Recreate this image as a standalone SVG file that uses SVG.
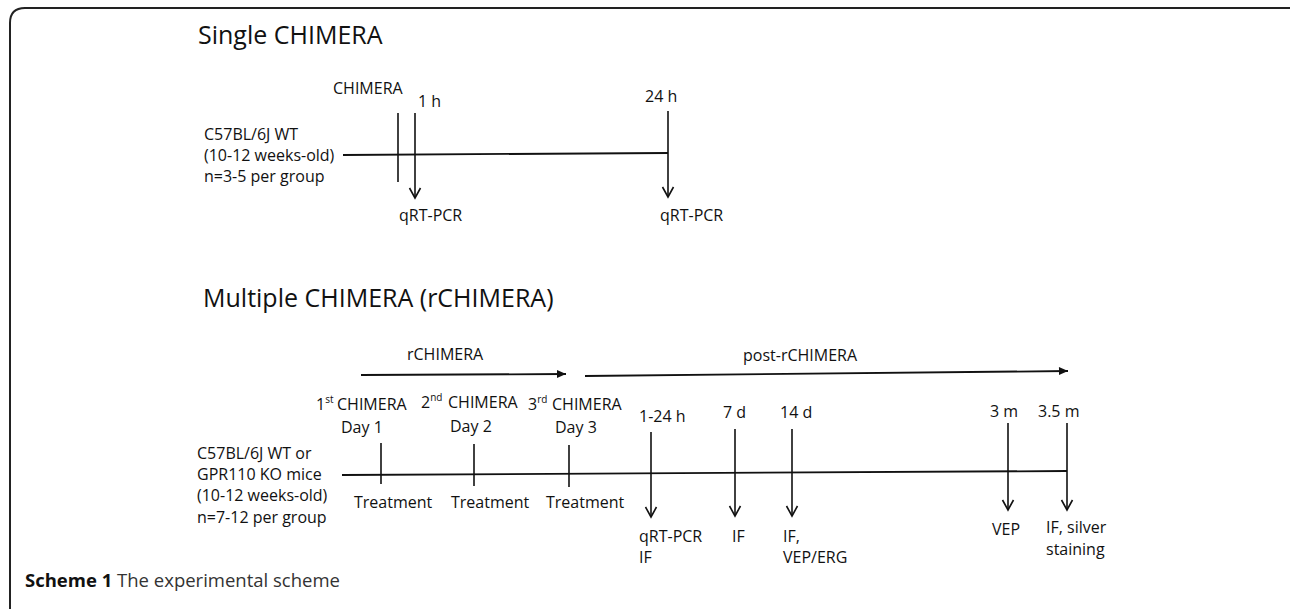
<svg xmlns="http://www.w3.org/2000/svg" width="1290" height="609" viewBox="0 0 1290 609">
<style>
  text { font-family: "Open Sans", "Noto Sans", "DejaVu Sans", sans-serif; fill: #111; }
  .lbl { font-size: 16px; }
  .title { font-size: 25px; }
  .sup { font-size: 10px; }
  .line { stroke: #111; stroke-width: 1.8; fill: none; }
  .tick { stroke: #111; stroke-width: 1.6; fill: none; }
  .frame { stroke: #222; stroke-width: 2; fill: none; }
  .cap-b { font-size: 18.5px; font-weight: bold; fill: #111; }
  .cap { font-size: 18.5px; fill: #333; }
</style>
<defs>
  <marker id="vhead" markerUnits="userSpaceOnUse" viewBox="-12 -7 14 14" markerWidth="14" markerHeight="14" refX="0" refY="0" orient="auto">
    <path d="M-10,-5.5 L0,0 L-10,5.5" fill="none" stroke="#111" stroke-width="1.6"/>
  </marker>
  <marker id="fhead" markerUnits="userSpaceOnUse" viewBox="-10 -5 11 10" markerWidth="11" markerHeight="10" refX="0" refY="0" orient="auto">
    <path d="M-9,-4 L0,0 L-9,4 Z" fill="#111"/>
  </marker>
</defs>

<path class="frame" d="M10,609 L10,23 Q10,8 25,8 L1290,8"/>

<!-- Single CHIMERA -->
<g id="single-title"><text class="title" x="198" y="44">Single CHIMERA</text></g>
<g id="single-subject">
  <text class="lbl" x="204" y="140">C57BL/6J WT</text>
  <text class="lbl" x="204" y="161">(10-12 weeks-old)</text>
  <text class="lbl" x="204" y="182">n=3-5 per group</text>
</g>
<g id="single-chimera">
  <text class="lbl" x="333" y="94">CHIMERA</text>
  <line class="tick" x1="398" y1="113" x2="398" y2="182"/>
</g>
<g id="single-1h">
  <text class="lbl" x="418" y="107">1 h</text>
  <text class="lbl" x="399" y="221">qRT-PCR</text>
</g>
<g id="single-24h">
  <text class="lbl" x="645" y="102">24 h</text>
  <text class="lbl" x="660" y="221">qRT-PCR</text>
</g>

<!-- Multiple CHIMERA -->
<g id="multi-title"><text class="title" x="203" y="307">Multiple CHIMERA (rCHIMERA)</text></g>
<g id="multi-subject">
  <text class="lbl" x="197" y="459">C57BL/6J WT or</text>
  <text class="lbl" x="197" y="480">GPR110 KO mice</text>
  <text class="lbl" x="197" y="501">(10-12 weeks-old)</text>
  <text class="lbl" x="197" y="523">n=7-12 per group</text>
</g>
<g id="phase-rchimera"><text class="lbl" x="407" y="360">rCHIMERA</text></g>
<g id="phase-post"><text class="lbl" x="743" y="361">post-rCHIMERA</text></g>

<g id="day1">
  <text class="lbl" x="316" y="410">1<tspan class="sup" dy="-7">st</tspan><tspan x="337" dy="7">CHIMERA</tspan></text>
  <text class="lbl" x="341" y="433">Day 1</text>
  <line class="tick" x1="381" y1="443" x2="381" y2="484"/>
  <text class="lbl" x="354" y="508">Treatment</text>
</g>
<g id="day2">
  <text class="lbl" x="421" y="408">2<tspan class="sup" dy="-7">nd</tspan><tspan x="448" dy="7">CHIMERA</tspan></text>
  <text class="lbl" x="450" y="432">Day 2</text>
  <line class="tick" x1="474" y1="444" x2="474" y2="486"/>
  <text class="lbl" x="451" y="508">Treatment</text>
</g>
<g id="day3">
  <text class="lbl" x="528" y="410">3<tspan class="sup" dy="-7">rd</tspan><tspan x="552" dy="7">CHIMERA</tspan></text>
  <text class="lbl" x="555" y="433">Day 3</text>
  <line class="tick" x1="569" y1="445" x2="569" y2="487"/>
  <text class="lbl" x="546" y="508">Treatment</text>
</g>
<g id="t-1-24h">
  <text class="lbl" x="639" y="422">1-24 h</text>
  <text class="lbl" x="639" y="542">qRT-PCR</text>
  <text class="lbl" x="639" y="563">IF</text>
</g>
<g id="t-7d">
  <text class="lbl" x="723" y="418">7 d</text>
  <text class="lbl" x="732" y="542">IF</text>
</g>
<g id="t-14d">
  <text class="lbl" x="780" y="418">14 d</text>
  <text class="lbl" x="783" y="542">IF,</text>
  <text class="lbl" x="783" y="563">VEP/ERG</text>
</g>
<g id="t-3m">
  <text class="lbl" x="990" y="417">3 m</text>
  <text class="lbl" x="992" y="535">VEP</text>
</g>
<g id="t-3-5m">
  <text class="lbl" x="1038" y="417">3.5 m</text>
  <text class="lbl" x="1046" y="533">IF, silver</text>
  <text class="lbl" x="1046" y="555">staining</text>
</g>

<g id="connectors">
  <!-- single timeline -->
  <line class="line" x1="343" y1="155" x2="668" y2="153"/>
  <line class="tick" x1="415" y1="113" x2="415" y2="198" marker-end="url(#vhead)"/>
  <line class="tick" x1="668" y1="111" x2="668" y2="197" marker-end="url(#vhead)"/>
  <!-- phase arrows -->
  <line class="line" x1="361" y1="375" x2="566" y2="374" marker-end="url(#fhead)"/>
  <line class="line" x1="585" y1="376" x2="1068" y2="371" marker-end="url(#fhead)"/>
  <!-- multiple timeline -->
  <line class="line" x1="342" y1="475" x2="1067" y2="471"/>
  <line class="tick" x1="651" y1="432" x2="651" y2="517" marker-end="url(#vhead)"/>
  <line class="tick" x1="735" y1="429" x2="735" y2="516" marker-end="url(#vhead)"/>
  <line class="tick" x1="792" y1="429" x2="792" y2="516" marker-end="url(#vhead)"/>
  <line class="tick" x1="1008" y1="423" x2="1008" y2="510" marker-end="url(#vhead)"/>
  <line class="tick" x1="1067" y1="423" x2="1067" y2="510" marker-end="url(#vhead)"/>
</g>

<g id="caption">
  <text x="25" y="587"><tspan class="cap-b">Scheme 1</tspan><tspan class="cap"> The experimental scheme</tspan></text>
</g>
</svg>
